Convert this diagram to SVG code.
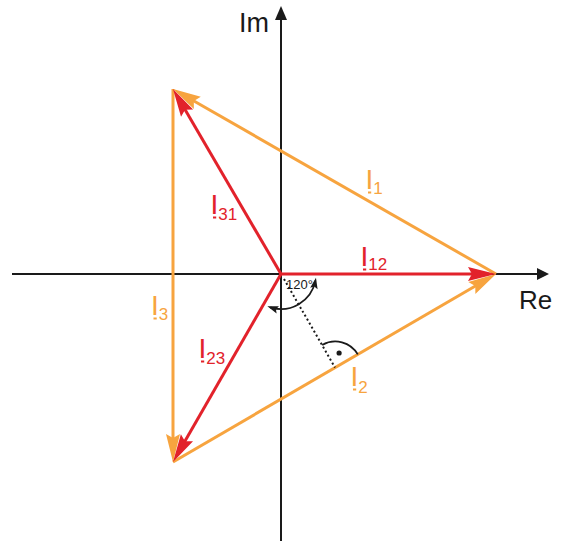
<svg xmlns="http://www.w3.org/2000/svg" width="566" height="542" viewBox="0 0 566 542">
<style>
.axis{stroke:#1a1a1a;stroke-width:2;fill:none}
.red{stroke:#e2222b;stroke-width:3;fill:none}
.org{stroke:#f7a43f;stroke-width:3;fill:none}
.thin{stroke:#1a1a1a;stroke-width:1.8;fill:none}
.lbl{font-family:"Liberation Sans",Arial,sans-serif;font-size:28px}
.sub{font-size:17px}
.rt{fill:#e2222b}
.ot{fill:#f7a43f}
.bt{fill:#1a1a1a;font-family:"Liberation Sans",Arial,sans-serif}
</style>
<defs>
<marker id="ar" markerUnits="userSpaceOnUse" viewBox="-20 -8 32 16" markerWidth="32" markerHeight="16" refX="0" refY="0" orient="auto" overflow="visible">
<path d="M10,0 L-18,-7 L-14,0 L-18,7 Z" fill="#e2222b"/>
</marker>
<marker id="ao" markerUnits="userSpaceOnUse" viewBox="-20 -8 32 16" markerWidth="32" markerHeight="16" refX="0" refY="0" orient="auto" overflow="visible">
<path d="M10,0 L-18,-7 L-14,0 L-18,7 Z" fill="#f7a43f"/>
</marker>
<marker id="ab" markerUnits="userSpaceOnUse" viewBox="-10 -5 14 10" markerWidth="14" markerHeight="10" refX="0" refY="0" orient="auto-start-reverse" overflow="visible">
<path d="M3,0 L-8,-3.8 L-6,0 L-8,3.8 Z" fill="#1a1a1a"/>
</marker>
</defs>
<g id="axes">
<line class="axis" x1="12" y1="274" x2="539" y2="274"/>
<path d="M549,274 L537,268 L537,280 Z" fill="#1a1a1a"/>
<line class="axis" x1="281" y1="541" x2="281" y2="18"/>
<path d="M281,6 L275,20 L287,20 Z" fill="#1a1a1a"/>
<text class="bt" x="239" y="32" font-size="27">Im</text>
<text class="bt" x="519" y="309" font-size="26">Re</text>
</g>
<g id="connectors">
<line id="I1" class="org" x1="496" y1="274" x2="181.7" y2="94" marker-end="url(#ao)"/>
<line id="I3" class="org" x1="173" y1="89" x2="173" y2="452" marker-end="url(#ao)"/>
<line id="I2" class="org" x1="173" y1="462" x2="487.4" y2="279" marker-end="url(#ao)"/>
<line id="I12" class="red" x1="281" y1="274" x2="486" y2="274" marker-end="url(#ar)"/>
<line id="I31" class="red" x1="281" y1="274" x2="178" y2="97.6" marker-end="url(#ar)"/>
<line id="I23" class="red" x1="281" y1="274" x2="178" y2="453.3" marker-end="url(#ar)"/>
<line id="perp" x1="284" y1="279" x2="335" y2="367.5" stroke="#1a1a1a" stroke-width="2" stroke-dasharray="2 2.6"/>
<path id="rightangle" class="thin" d="M322.2,345 A26,26 0 0 1 357.8,354.4"/>
<circle cx="339.1" cy="353" r="2.6" fill="#1a1a1a"/>
<path id="angle120" class="thin" d="M270.2,307.3 A35,35 0 0 0 315.4,280.7" marker-start="url(#ab)" marker-end="url(#ab)"/>
<text class="bt" x="286" y="288.5" font-size="13">120°</text>
</g>
<g id="labels">
<g id="lbl-I1"><text class="lbl ot" x="365.5" y="189">I<tspan class="sub" dy="5">1</tspan></text><rect class="ot" x="368" y="191.5" width="3.2" height="2"/></g>
<g id="lbl-I12"><text class="lbl rt" x="360.5" y="266">I<tspan class="sub" dy="4">12</tspan></text><rect class="rt" x="363" y="268.5" width="3.2" height="2"/></g>
<g id="lbl-I31"><text class="lbl rt" x="210.5" y="214">I<tspan class="sub" dy="6">31</tspan></text><rect class="rt" x="213" y="216.5" width="3.2" height="2"/></g>
<g id="lbl-I2"><text class="lbl ot" x="350.5" y="386">I<tspan class="sub" dy="7">2</tspan></text><rect class="ot" x="353" y="388.5" width="3.2" height="2"/></g>
<g id="lbl-I3"><text class="lbl ot" x="151" y="315">I<tspan class="sub" dy="5">3</tspan></text><rect class="ot" x="153.5" y="317.5" width="3.2" height="2"/></g>
<g id="lbl-I23"><text class="lbl rt" x="198.5" y="358">I<tspan class="sub" dy="6">23</tspan></text><rect class="rt" x="201" y="360.5" width="3.2" height="2"/></g>
</g>
</svg>
